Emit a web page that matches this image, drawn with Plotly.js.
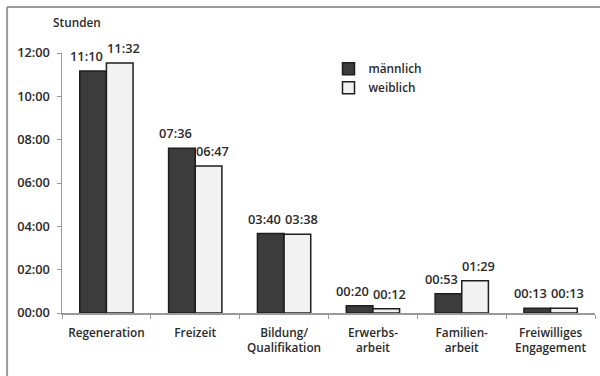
<!DOCTYPE html>
<html>
<head>
<meta charset="utf-8">
<script src="https://cdn.plot.ly/plotly-3.0.1.min.js"></script>
<style>
html,body{margin:0;padding:0;background:#fff;}
#chart{width:600px;height:376px;}
</style>
</head>
<body>
<div id="chart"></div>
<script>
const categories = ["Regeneration", "Freizeit", "Bildung/<br>Qualifikation", "Erwerbs-<br>arbeit", "Familien-<br>arbeit", "Freiwilliges<br>Engagement"];
const maleMinutes = [670, 456, 220, 20, 53, 13];
const femaleMinutes = [692, 407, 218, 12, 89, 13];
const tickMinutes = [0, 120, 240, 360, 480, 600, 720];
const tickLabels = ["00:00", "02:00", "04:00", "06:00", "08:00", "10:00", "12:00"];

function fmt(m) {
  const h = Math.floor(m / 60), mm = m % 60;
  return String(h).padStart(2, "0") + ":" + String(mm).padStart(2, "0");
}

const wordFont = {family: "Open Sans, sans-serif", size: 11.8, color: "#2a2a2a", weight: 600};
const numFont = {family: "Open Sans, sans-serif", size: 12.8, color: "#2a2a2a", weight: 600};

const traces = [
  {
    type: "bar", name: "männlich", x: categories, y: maleMinutes,
    marker: {color: "#3c3c3c", line: {color: "#1e1e1e", width: 1.5}},
    hoverinfo: "skip"
  },
  {
    type: "bar", name: "weiblich", x: categories, y: femaleMinutes,
    marker: {color: "#f2f2f2", line: {color: "#1e1e1e", width: 1.5}},
    hoverinfo: "skip"
  }
];

const annotations = [
  {text: "Stunden", xref: "paper", yref: "paper", x: -0.02, y: 1.12,
   xanchor: "left", yanchor: "middle", showarrow: false, font: wordFont}
];
categories.forEach((c, i) => {
  annotations.push({x: c, y: maleMinutes[i], text: fmt(maleMinutes[i]), xref: "x", yref: "y",
    showarrow: false, yanchor: "bottom", xanchor: "center", xshift: -20, yshift: 4, font: numFont});
  annotations.push({x: c, y: femaleMinutes[i], text: fmt(femaleMinutes[i]), xref: "x", yref: "y",
    showarrow: false, yanchor: "bottom", xanchor: "center", xshift: 17, yshift: 4, font: numFont});
});

const layout = {
  width: 600, height: 376,
  margin: {l: 62, r: 5, t: 53, b: 63},
  paper_bgcolor: "#fff", plot_bgcolor: "#fff",
  font: wordFont,
  barmode: "group", bargap: 0.4, bargroupgap: 0,
  showlegend: true,
  legend: {x: 0.50, y: 0.995, xanchor: "left", yanchor: "top", bgcolor: "rgba(0,0,0,0)",
           font: wordFont, tracegroupgap: 0, itemwidth: 30},
  xaxis: {
    type: "category", showgrid: false, zeroline: false,
    showline: true, linecolor: "#9a9a9a", linewidth: 1.5,
    ticks: "outside", tickson: "boundaries", ticklen: 4, tickcolor: "#9a9a9a",
    tickfont: wordFont, ticklabelstandoff: 8, fixedrange: true
  },
  yaxis: {
    range: [0, 720], showgrid: false, zeroline: false,
    showline: true, linecolor: "#9a9a9a", linewidth: 1.5,
    ticks: "outside", ticklen: 4, tickcolor: "#9a9a9a", ticklabelstandoff: 4,
    tickvals: tickMinutes, ticktext: tickLabels, tickfont: numFont, fixedrange: true
  },
  annotations: annotations,
  shapes: [
    {type: "line", xref: "paper", yref: "paper", x0: -0.103, x1: 1.02, y0: 1.177, y1: 1.177,
     line: {color: "#9a9a9a", width: 2}},
    {type: "line", xref: "paper", yref: "paper", x0: -0.103, x1: -0.103, y0: 1.177, y1: -0.25,
     line: {color: "#9a9a9a", width: 2}}
  ]
};

Plotly.newPlot("chart", traces, layout, {displayModeBar: false, staticPlot: true});
</script>
</body>
</html>
